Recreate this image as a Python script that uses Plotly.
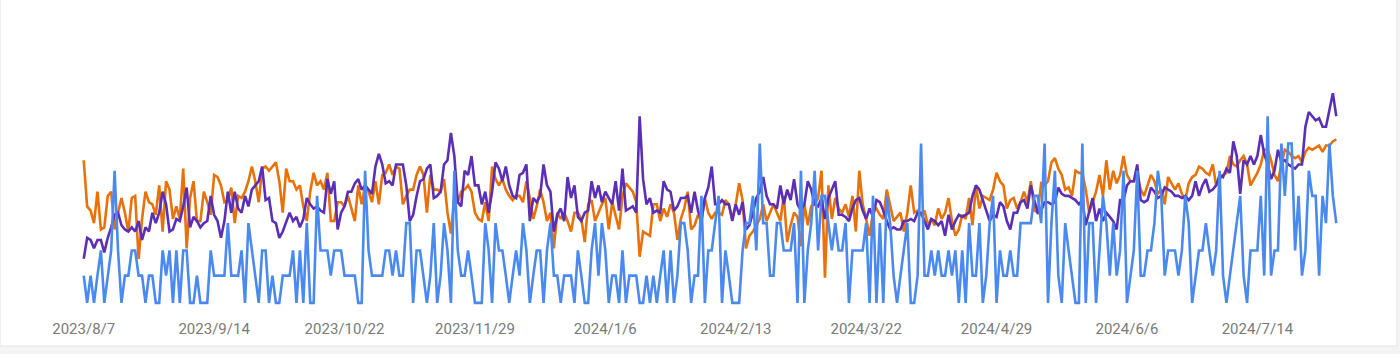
import pandas as pd
import plotly.graph_objects as go

start_date = "2023-08-07"
n_days = 366

orange_vals = [
    68,46,44,38,53,35,36,51,53,35, 43,50,43,34,50,51,21,40,53,48,
    47,42,56,34,58,54,40,46,40,64, 26,50,58,39,39,53,48,42,61,60,
    56,48,49,55,38,51,50,53,58,65, 58,48,64,65,63,65,67,58,43,64,
    58,58,54,56,46,39,53,62,56,58, 54,62,39,
    39,48,48,46,51,45,39,56,47,56, 53,48,58,47,61,62,66,61,65,64, 47,51,
    54,54,61,65,61,43,61,54,54,53, 59,43,33,51,48,53,54,56,53,43,
    40,39,48,39,65,59,56,59,54,51, 49,51,
    51,48,58,50,40,46,54,48,39,43, 26,43,40,43,39,34,43,43,40,
    29,47,49,39,43,47,50,35,48,42, 35,51,57,55,53,48,22,34,33,32,
    47,47,39,45,41,47,43,30,40,45, 53,35,37,42,39,50,43,40,43,43,
    42,49,47,40,47,57,49,26,32,34, 37,40,47,39,43,47,43,39,51,29,
    37,43,41,27,47,37,46,47,50,63, 12,56,40,
    50,45,43,47,41,51,34,63,47,40, 32,43,45,42,40,54,47,39,41,43,
    34,43,56,43,44,42,44,37,40,37, 45,40,43,50,39,32,35,42,40,50,
    37,56,45,51,50,49,54,62,58,56, 45,49,50,45,48,53,48,58,44,43,
    57,56,58,67,69,64,61,54,55,51, 63,62,62,
    54,43,48,53,61,51,68,54,63,57, 61,70,61,58,58,61,54,51,56,61,
    58,52,54,47,60,57,54,57,52,49, 57,60,61,65,64,62,61,66,56,59,
    61,62,70,66,65,68,70,66,56,59, 62,66,73,73,68,61,58,66,73,72,
    70,69,70,67,72,74,73,74,75,72, 75,75,77,78,
]

purple_vals = [
    21,31,30,26,30,30,24,31,36,42, 43,37,35,34,36,34,39,30,36,34,
    43,38,43,53,47,34,35,40,39,46, 55,36,41,39,36,38,39,51,42,39,
    31,39,53,43,53,45,43,51,46,54, 56,58,65,49,50,39,38,31,34,39,
    43,39,41,36,40,50,47,45,46,44, 43,59,52,
    58,35,43,46,53,53,57,59,54,56, 54,52,65,71,66,57,58,56,66,66,
    66,56,39,42,51,58,59,64,66,50, 51,53,66,68,81,70,48,46,63,61,
    70,56,56,47,53,43,53,67,64,58, 65,56,51,50,61,62,66,39,50,48,
    51,66,56,53,34,42,45,39,60,50, 56,41,39,
    43,44,58,50,56,48,53,50,47,58, 44,64,44,45,46,43,89,59,47,50,
    43,44,43,58,54,53,44,46,50,50, 51,43,53,44,39,50,55,65,47,47,
    49,47,47,39,47,42,48,35,37,43, 50,53,60,51,47,47,45,56,47,54,
    49,59,47,44,47,58,54,47,46,50, 40,50,54,
    58,42,42,41,39,45,49,50,44,40, 45,41,49,48,44,39,35,36,35,35,
    39,39,40,39,43,43,39,35,40,39, 37,39,32,42,35,39,42,41,42,43,
    51,56,54,49,45,39,42,41,48,46, 39,35,43,43,48,49,45,56,49,43,
    44,48,48,47,48,55,52,51,51,50, 49,47,49,
    37,43,50,39,45,39,43,41,39,35, 49,49,56,58,58,66,49,48,49,55,
    53,50,51,55,54,53,51,51,50,51, 49,51,58,51,56,59,53,54,56,61,
    60,64,62,77,70,52,68,66,70,66, 70,80,71,66,59,63,73,67,68,66,
    65,64,66,66,84,91,89,87,88,84, 84,92,100,89,
]

blue_vals = [
    13,0,13,0,13,25,0,13,25,63, 25,0,13,13,25,25,13,13,0,13,
    13,0,0,25,13,25,0,25,0,25, 25,0,0,13,0,0,0,25,13,13,
    13,13,38,13,13,13,25,0,38,25, 13,0,25,25,0,13,0,0,13,13,
    13,25,0,25,0,38,0,0,51,25, 25,25,13,
    25,25,25,13,13,13,13,0,0,63, 25,13,13,13,13,25,25,13,25,13,
    13,38,38,0,25,25,13,0,13,38, 0,13,38,25,0,63,25,13,13,25,
    13,0,0,0,38,25,0,38,25,25, 13,0,13,25,13,38,25,0,13,25,
    25,0,25,38,13,13,0,13,13,13, 0,25,13,
    0,0,25,38,13,38,25,0,13,13, 0,25,0,13,13,13,0,0,13,0,
    13,0,13,25,0,25,0,13,38,38, 25,0,13,13,51,0,25,25,38,51,
    0,25,13,0,0,0,25,38,38,51, 25,76,38,38,13,13,38,38,25,25,
    25,38,0,63,0,25,38,63,25,51, 51,38,25,
    38,25,25,38,0,25,25,25,25,38, 0,51,0,38,0,51,38,13,0,13,
    25,38,0,0,13,76,13,13,25,13, 25,13,13,25,13,25,0,25,0,38,
    13,13,38,0,13,38,51,0,25,13, 13,25,13,13,38,38,38,38,51,51,
    38,76,0,38,63,13,0,38,25,13, 0,0,76,
    0,38,38,0,25,51,38,13,38,13, 25,63,0,13,25,63,13,13,25,25,
    38,63,51,13,25,25,25,13,25,51, 38,0,13,25,25,38,25,13,25,63,
    13,0,13,25,38,51,13,0,25,25, 25,51,13,89,13,25,25,76,51,76,
    76,25,51,13,25,63,51,51,13,51, 38,76,51,38,
]

tick_dates = ["2023-08-07", "2023-09-14", "2023-10-22", "2023-11-29", "2024-01-06",
              "2024-02-13", "2024-03-22", "2024-04-29", "2024-06-06", "2024-07-14"]
tick_labels = ["2023/8/7", "2023/9/14", "2023/10/22", "2023/11/29", "2024/1/6",
               "2024/2/13", "2024/3/22", "2024/4/29", "2024/6/6", "2024/7/14"]

dates = pd.date_range(start_date, periods=n_days, freq="D")

W, H = 1400, 354
ML, MR, MT, MB = 82, 62, 90, 48
PW, PH = W - ML - MR, H - MT - MB


def px_x(p):
    return (p - ML) / PW


def px_y(p):
    return (H - MB - p) / PH


fig = go.Figure()
series = [
    ("orange", orange_vals, "#E8710A"),
    ("purple", purple_vals, "#5B2FB5"),
    ("blue", blue_vals, "#4A8AF0"),
]
for name, vals, col in series:
    n = min(len(vals), n_days)
    fig.add_trace(go.Scatter(
        x=dates[:n], y=vals[:n], mode="lines", name=name,
        line=dict(color=col, width=2.6), hoverinfo="skip",
    ))

x0 = dates[0] - pd.Timedelta(hours=12)
x1 = dates[-1] + pd.Timedelta(hours=12)

fig.update_layout(
    width=W, height=H,
    margin=dict(l=ML, r=MR, t=MT, b=MB, pad=0),
    paper_bgcolor="#f4f4f4",
    plot_bgcolor="rgba(0,0,0,0)",
    showlegend=False,
    xaxis=dict(
        range=[x0, x1], showgrid=False, zeroline=False, showline=False,
        tickmode="array", tickvals=pd.to_datetime(tick_dates), ticktext=tick_labels,
        ticks="", tickfont=dict(family="Roboto", size=15, color="#7a7a7a"),
        ticklabelstandoff=12, fixedrange=True,
    ),
    yaxis=dict(
        range=[-1.5, 101.5], showgrid=False, zeroline=False, showline=False,
        showticklabels=False, ticks="", fixedrange=True,
    ),
    shapes=[dict(
        type="rect", xref="paper", yref="paper", layer="below",
        x0=px_x(0), x1=px_x(1397), y0=px_y(346), y1=px_y(-2),
        fillcolor="#ffffff", line=dict(color="#e3e3e3", width=1),
    )],
)

fig.write_html("out.html")
